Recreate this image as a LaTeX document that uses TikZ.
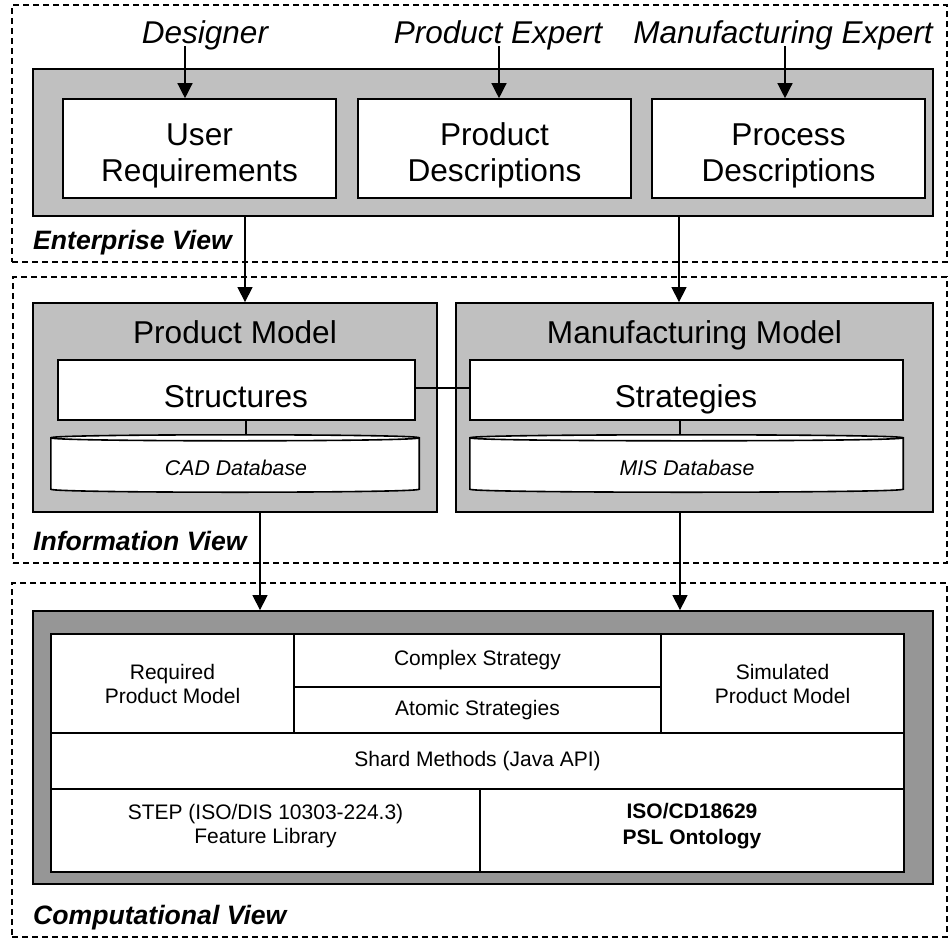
\documentclass[tikz,border=0pt]{standalone}
\usepackage{fontspec}
\setmainfont{Liberation Sans}
\usetikzlibrary{arrows.meta,calc}
\definecolor{lgray}{RGB}{192,192,192}
\definecolor{dgray}{RGB}{150,150,150}
\newcommand\cmpfnt{\fontsize{21}{24}\selectfont}
\begin{document}
\begin{tikzpicture}[x=1pt,y=-1pt,
 view/.style={draw, line width=1.3pt, dash pattern=on 6pt off 4pt, inner sep=0},
 graybox/.style={draw, fill=lgray, line width=1.8pt, inner sep=0},
 darkbox/.style={draw, fill=dgray, line width=1.8pt, inner sep=0},
 whitebox/.style={draw, fill=white, line width=1.6pt, inner sep=0},
 cell/.style={draw, fill=white, line width=1.4pt, inner sep=0, align=center, font=\cmpfnt},
 conn/.style={line width=1.3pt},
 arr/.style={line width=1.3pt, -{Triangle[width=15pt,length=15pt]}},
 bigtxt/.style={inner sep=0, align=center, font=\fontsize{31.6}{36}\selectfont},
 bigline/.style={inner sep=0, anchor=base, font=\fontsize{31.6}{36}\selectfont},
 toplbl/.style={inner sep=0, font=\fontsize{31.5}{36}\selectfont\itshape, anchor=base},
 viewlbl/.style={inner sep=0, font=\fontsize{26.6}{30}\selectfont\bfseries\itshape, anchor=base west},
 dbtxt/.style={inner sep=0, font=\fontsize{21.3}{24}\selectfont\itshape, anchor=base},
 celltxt/.style={inner sep=0, align=center, font=\cmpfnt},
 cyl/.style={line width=1.6pt, fill=white},
]
\useasboundingbox (0,0) rectangle (948,940);
\fill[white] (0,0) rectangle (948,940);

% view frames
\node[view, minimum width=935, minimum height=257] (entview) at (479.5,133.5) {};
\node[view, minimum width=934, minimum height=286] (infview) at (480,420) {};
\node[view, minimum width=935, minimum height=354] (cmpview) at (479.5,760) {};

% enterprise view
\node[graybox, minimum width=900, minimum height=147] (ent) at (483,142.5) {};
\node[whitebox, minimum width=273, minimum height=99] (ur) at (199.5,148.5) {};
\node[whitebox, minimum width=273, minimum height=99] (pd) at (494.5,148.5) {};
\node[whitebox, minimum width=273, minimum height=99] (prd) at (788.5,148.5) {};
\node[bigtxt] (urt) at (199.5,155.6) {User\\Requirements};
\node[bigtxt] (pdt) at (494.5,155.6) {Product\\Descriptions};
\node[bigtxt] (prdt) at (788.5,155.6) {Process\\Descriptions};
\node[toplbl] (des) at (205,43.3) {Designer};
\node[toplbl] (pex) at (498,43.3) {Product Expert};
\node[toplbl] (mex) at (783,43.3) {Manufacturing Expert};
\node[viewlbl] (entlbl) at (33,249) {Enterprise View};

% information view
\node[graybox, minimum width=404, minimum height=209] (pm) at (235,407.5) {};
\node[graybox, minimum width=477, minimum height=209] (mm) at (694.5,407.5) {};
\node[bigline] (pmt) at (235,343.3) {Product Model};
\node[bigline] (mmt) at (694.5,343.3) {Manufacturing Model};
\node[whitebox, minimum width=357, minimum height=60] (st) at (236.5,390) {};
\node[whitebox, minimum width=433, minimum height=60] (sg) at (686.5,390) {};
\node[bigline] (stt) at (236,407.3) {Structures};
\node[bigline] (sgt) at (686,407.3) {Strategies};
\node[inner sep=0, minimum width=368, minimum height=57] (cad) at (235,463.5) {};
\node[inner sep=0, minimum width=433, minimum height=57] (mis) at (686.5,463.5) {};
\foreach \db in {cad,mis}{
  \draw[cyl] ($(\db.north west)+(0,3)$) -- ($(\db.south west)+(0,-3)$)
     .. controls ($(\db.south west)+(0,1)$) and ($(\db.south east)+(0,1)$) .. ($(\db.south east)+(0,-3)$)
     -- ($(\db.north east)+(0,3)$)
     .. controls ($(\db.north east)+(0,-1)$) and ($(\db.north west)+(0,-1)$) .. ($(\db.north west)+(0,3)$) -- cycle;
  \draw[line width=1.6pt] ($(\db.north west)+(0,3)$)
     .. controls ($(\db.north west)+(0,7)$) and ($(\db.north east)+(0,7)$) .. ($(\db.north east)+(0,3)$);
}
\node[dbtxt] (cadt) at (236,475) {CAD Database};
\node[dbtxt] (mist) at (687,475) {MIS Database};
\node[viewlbl] (inflbl) at (33,550.7) {Information View};

% computational view
\node[darkbox, minimum width=900, minimum height=273] (cmp) at (483,747.5) {};
\node[cell, minimum width=853, minimum height=238] (inner) at (477.5,753) {};
\node[cell, minimum width=243, minimum height=99] (req) at (172.5,683.5) {Required\\Product Model};
\node[cell, minimum width=367, minimum height=53] (cx) at (477.5,660.5) {Complex Strategy};
\node[cell, minimum width=367, minimum height=46] (at) at (477.5,710) {Atomic Strategies};
\node[cell, minimum width=243, minimum height=99] (sim) at (782.5,683.5) {Simulated\\Product Model};
\node[cell, minimum width=853, minimum height=56] (sh) at (477.5,761) {Shard Methods (Java API)};
\node[cell, minimum width=429, minimum height=83] (stp) at (265.5,830.5) {};
\node[cell, minimum width=424, minimum height=83] (iso) at (692,830.5) {};
\node[celltxt] (stpt) at (265.5,826.5) {STEP (ISO/DIS 10303-224.3)\\Feature Library};
\node[celltxt, font=\fontsize{21}{25.5}\selectfont\bfseries] (isot) at (692,826) {ISO/CD18629\\PSL Ontology};
\node[viewlbl] (cmplbl) at (33,924) {Computational View};

% connectors
\coordinate (dA) at (185,46);
\coordinate (pA) at (499,46);
\coordinate (mA) at (785,46);
\draw[arr] (dA) -- (dA |- ur.north);
\draw[arr] (pA) -- (pA |- pd.north);
\draw[arr] (mA) -- (mA |- prd.north);
\draw[arr] ([xshift=-238pt]ent.south) -- ([xshift=10pt]pm.north);
\draw[arr] ([xshift=196pt]ent.south) -- ([xshift=-15.5pt]mm.north);
\draw[conn] ([yshift=2pt]st.east) -- ([yshift=2pt]sg.west);
\draw[conn] ([xshift=9.5pt]st.south) -- ([xshift=11pt]cad.north);
\draw[conn] ([xshift=-6.5pt]sg.south) -- ([xshift=-6.5pt]mis.north);
\draw[arr] ([xshift=25pt]pm.south) -- ([xshift=-223pt]cmp.north);
\draw[arr] ([xshift=-14.5pt]mm.south) -- ([xshift=197pt]cmp.north);
\end{tikzpicture}
\end{document}
